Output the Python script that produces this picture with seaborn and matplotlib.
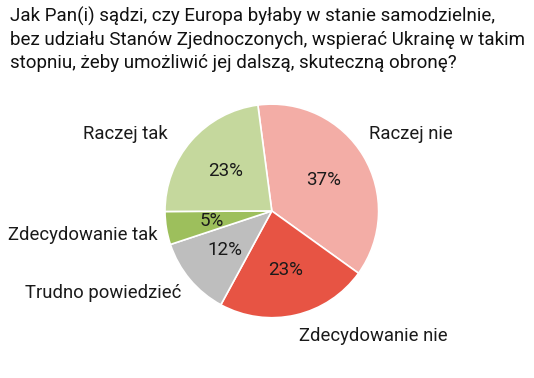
import matplotlib
matplotlib.use('Agg')
import matplotlib.pyplot as plt
import seaborn as sns

# ---------- dane ----------
kategorie = ['Raczej nie', 'Zdecydowanie nie', 'Trudno powiedzieć',
             'Zdecydowanie tak', 'Raczej tak']
wartosci = [37, 23, 12, 5, 23]
kolory = ['#F3ADA6', '#E75444', '#BEBEBE', '#9DBF5C', '#C5D89D']

tytul = ('Jak Pan(i) sądzi, czy Europa byłaby w stanie samodzielnie,\n'
         'bez udziału Stanów Zjednoczonych, wspierać Ukrainę w takim\n'
         'stopniu, żeby umożliwić jej dalszą, skuteczną obronę?')

# pozycje etykiet (w jednostkach promienia koła)
pozycje_etykiet = {
    'Raczej nie': (1.304, 0.72),
    'Zdecydowanie nie': (0.955, -1.168),
    'Trudno powiedzieć': (-1.575, -0.766),
    'Zdecydowanie tak': (-1.766, -0.224),
    'Raczej tak': (-1.37, 0.72),
}

sns.set_style('white')
plt.rcParams['font.family'] = ['Roboto', 'DejaVu Sans']

fig = plt.figure(figsize=(5.34, 3.78), dpi=100)
ax = fig.add_axes([0.509 - 0.2, 0.442 - 0.283, 0.4, 0.566])

ax.pie(wartosci, colors=kolory, startangle=97.5, counterclock=False,
       autopct='%d%%', pctdistance=0.57,
       wedgeprops=dict(edgecolor='white', linewidth=1.2),
       textprops=dict(fontsize=13.5, color='#1a1a1a'))
ax.set_xlim(-1, 1)
ax.set_ylim(-1, 1)
ax.set_aspect('equal')

for k in kategorie:
    x, y = pozycje_etykiet[k]
    ax.text(x, y, k, ha='center', va='center', fontsize=13.3, color='#1a1a1a',
            clip_on=False)

fig.text(0.018, 0.983, tytul, ha='left', va='top', fontsize=13.5,
         color='#111111', linespacing=1.36)

fig.savefig('out.png', dpi=100)
